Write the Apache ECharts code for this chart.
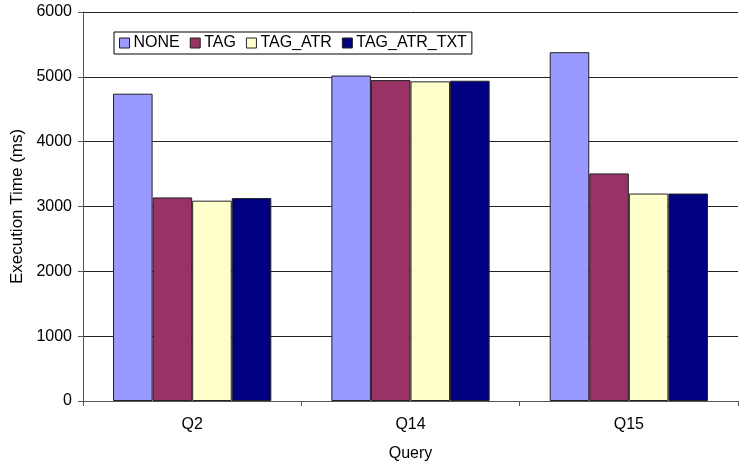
<!DOCTYPE html>
<html>
<head>
<meta charset="utf-8">
<script src="https://cdn.jsdelivr.net/npm/echarts@6/dist/echarts.min.js"></script>
<style>
  html, body { margin: 0; padding: 0; background: #fff; }
  #chart { width: 739px; height: 466px; }
</style>
</head>
<body>
<div id="chart"></div>
<script>
// Query execution times (ms) per indexing scheme
const queries = ['Q2', 'Q14', 'Q15'];
const noneTimes = [4740, 5020, 5380];
const tagTimes = [3140, 4950, 3510];
const tagAtrTimes = [3090, 4930, 3200];
const tagAtrTxtTimes = [3130, 4940, 3200];
const yTicks = [0, 1000, 2000, 3000, 4000, 5000, 6000];

const FONT = '"Liberation Sans", Arial, sans-serif';

const seriesDefs = [
  { name: 'NONE', data: noneTimes, color: '#9999FF' },
  { name: 'TAG', data: tagTimes, color: '#993366' },
  { name: 'TAG_ATR', data: tagAtrTimes, color: '#FFFFCC' },
  { name: 'TAG_ATR_TXT', data: tagAtrTxtTimes, color: '#000080' }
];

const chart = echarts.init(document.getElementById('chart'), null, { renderer: 'canvas' });

chart.setOption({
  animation: false,
  backgroundColor: '#ffffff',
  textStyle: { fontFamily: FONT, color: '#000' },
  grid: {
    left: 83, right: 1, top: 12, bottom: 65,
    containLabel: false,
    outerBoundsMode: 'none'
  },
  legend: {
    left: 114,
    top: 32,
    orient: 'horizontal',
    padding: [3, 5, 3, 5],
    itemGap: 10,
    itemWidth: 10,
    itemHeight: 10,
    borderColor: '#000',
    borderWidth: 1,
    icon: 'rect',
    textStyle: { fontFamily: FONT, fontSize: 16, color: '#000', padding: [0, 0, 0, -1] },
    itemStyle: { borderColor: '#222', borderWidth: 1 },
    data: seriesDefs.map(s => s.name)
  },
  xAxis: {
    type: 'category',
    data: queries,
    name: 'Query',
    nameLocation: 'middle',
    nameGap: 45,
    nameTextStyle: { fontFamily: FONT, fontSize: 16, color: '#000' },
    axisLine: { show: true, lineStyle: { color: '#555', width: 1 } },
    axisTick: { show: true, alignWithLabel: false, length: 5, lineStyle: { color: '#555' } },
    axisLabel: { fontFamily: FONT, fontSize: 16, color: '#000', margin: 16 },
    splitLine: { show: false }
  },
  yAxis: {
    type: 'value',
    min: yTicks[0],
    max: yTicks[yTicks.length - 1],
    interval: 1000,
    name: 'Execution Time (ms)',
    nameLocation: 'middle',
    nameGap: 55,
    nameRotate: 90,
    nameTextStyle: { fontFamily: FONT, fontSize: 17, color: '#000' },
    axisLine: { show: true, lineStyle: { color: '#555', width: 1 } },
    axisTick: { show: true, length: 5, lineStyle: { color: '#555' } },
    axisLabel: {
      fontFamily: FONT, fontSize: 16, color: '#000', margin: 11,
      formatter: v => String(v)
    },
    splitLine: { show: true, lineStyle: { color: '#222', width: 1 } }
  },
  series: seriesDefs.map(s => ({
    name: s.name,
    type: 'bar',
    data: s.data,
    barGap: '0%',
    barCategoryGap: '27.5%',
    itemStyle: { color: s.color, borderColor: '#222', borderWidth: 1 }
  }))
});
</script>
</body>
</html>
